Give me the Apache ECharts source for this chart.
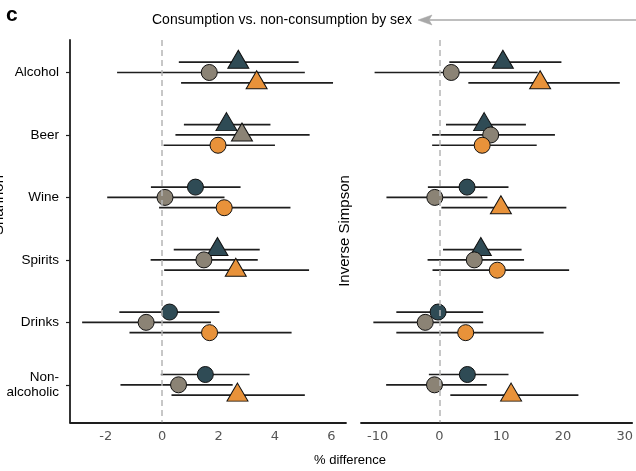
<!DOCTYPE html>
<html><head><meta charset="utf-8">
<script src="https://cdn.jsdelivr.net/npm/echarts@6/dist/echarts.min.js"></script>
<style>html,body{margin:0;padding:0;background:#fff}#c{width:636px;height:471px}</style>
</head><body><div id="c"></div>
<script>
// ---- data ----
const categories = ['Alcohol', 'Beer', 'Wine', 'Spirits', 'Drinks', 'Non-\nalcoholic'];
const groups = ['Teal group', 'Gray group', 'Orange group'];
const xTicksShannon = [-2, 0, 2, 4, 6];
const xTicksSimpson = [-10, 0, 10, 20, 30];

// Shannon panel (% difference)
const shannonTealEst = [2.70, 2.28, 1.18, 1.96, 0.26, 1.53];
const shannonTealLo  = [0.59, 0.77, -0.40, 0.41, -1.52, -0.05];
const shannonTealHi  = [4.84, 3.84, 2.78, 3.46, 2.03, 3.10];
const shannonTealSig = [1, 1, 0, 1, 0, 0];

const shannonGrayEst = [1.67, 2.83, 0.10, 1.48, -0.57, 0.58];
const shannonGrayLo  = [-1.60, 0.47, -1.95, -0.41, -2.84, -1.48];
const shannonGrayHi  = [5.06, 5.23, 2.21, 3.39, 1.73, 2.50];
const shannonGraySig = [0, 1, 0, 0, 0, 0];

const shannonOrangeEst = [3.35, 1.98, 2.20, 2.61, 1.68, 2.67];
const shannonOrangeLo  = [0.67, 0.05, -0.11, 0.07, -1.16, 0.33];
const shannonOrangeHi  = [6.06, 4.00, 4.55, 5.21, 4.59, 5.06];
const shannonOrangeSig = [1, 0, 0, 1, 0, 1];

// Inverse Simpson panel (% difference)
const simpsonTealEst = [10.27, 7.24, 4.47, 6.70, -0.22, 4.52];
const simpsonTealLo  = [1.60, 1.06, -1.87, 0.58, -6.98, -1.71];
const simpsonTealHi  = [19.75, 14.00, 11.18, 13.30, 7.08, 11.18];
const simpsonTealSig = [1, 1, 0, 1, 0, 0];

const simpsonGrayEst = [1.91, 8.30, -0.75, 5.64, -2.30, -0.80];
const simpsonGrayLo  = [-10.50, -1.18, -8.58, -1.92, -10.70, -8.63];
const simpsonGrayHi  = [15.90, 18.70, 7.77, 13.70, 7.08, 7.67];
const simpsonGraySig = [0, 0, 0, 0, 0, 0];

const simpsonOrangeEst = [16.30, 6.92, 9.95, 9.37, 4.25, 11.60];
const simpsonOrangeLo  = [4.68, -1.18, 0.32, -1.12, -6.98, 1.76];
const simpsonOrangeHi  = [29.20, 15.75, 20.55, 21.00, 16.87, 22.50];
const simpsonOrangeSig = [1, 0, 1, 0, 0, 1];

// ---- styling ----
const colors = ['#2f4b55', '#8b8375', '#e8923a'];
const dodge = [-0.165, 0, 0.165];
const FONT = '"Liberation Sans", Arial, sans-serif';

const panels = [
  { est: [shannonTealEst, shannonGrayEst, shannonOrangeEst],
    lo: [shannonTealLo, shannonGrayLo, shannonOrangeLo],
    hi: [shannonTealHi, shannonGrayHi, shannonOrangeHi],
    sig: [shannonTealSig, shannonGraySig, shannonOrangeSig] },
  { est: [simpsonTealEst, simpsonGrayEst, simpsonOrangeEst],
    lo: [simpsonTealLo, simpsonGrayLo, simpsonOrangeLo],
    hi: [simpsonTealHi, simpsonGrayHi, simpsonOrangeHi],
    sig: [simpsonTealSig, simpsonGraySig, simpsonOrangeSig] }
];

const series = [];
panels.forEach((p, pi) => {
  series.push({
    type: 'scatter', xAxisIndex: pi, yAxisIndex: pi, data: [], z: 1, silent: true,
    markLine: { silent: true, symbol: ['none', 'none'], label: { show: false },
      lineStyle: { color: '#b5b5b5', type: [6, 4], width: 1.5 },
      data: [{ xAxis: 0 }] }
  });
  groups.forEach((g, gi) => {
    const bars = categories.map((c, i) => [p.lo[gi][i], p.hi[gi][i], i + 1 + dodge[gi]]);
    series.push({
      type: 'custom', name: g, xAxisIndex: pi, yAxisIndex: pi, z: 2, silent: true,
      data: bars,
      encode: { x: [0, 1], y: 2 },
      renderItem: function (params, api) {
        const a = api.coord([api.value(0), api.value(2)]);
        const b = api.coord([api.value(1), api.value(2)]);
        return { type: 'line', shape: { x1: a[0], y1: a[1], x2: b[0], y2: b[1] },
          style: { stroke: '#1e1e1e', lineWidth: 1.7 } };
      }
    });
  });
  groups.forEach((g, gi) => {
    const pts = categories.map((c, i) => {
      const s = p.sig[gi][i] === 1;
      return { value: [p.est[gi][i], i + 1 + dodge[gi]],
        symbol: s ? 'triangle' : 'circle',
        symbolSize: s ? [21, 18] : 16,
        symbolOffset: s ? [0, -3] : [0, 0] };
    });
    series.push({
      type: 'scatter', name: g, xAxisIndex: pi, yAxisIndex: pi, z: 3, silent: true,
      data: pts,
      itemStyle: { color: colors[gi], borderColor: '#111', borderWidth: 1, opacity: 1 }
    });
  });
});

const yBase = {
  type: 'value', inverse: true, min: 0.48, max: 6.6, splitLine: { show: false }
};

const option = {
  animation: false,
  backgroundColor: '#fff',
  grid: [
    { left: 70, top: 40, width: 276, height: 382.3 },
    { left: 361, top: 40, right: 0, height: 382.3 }
  ],
  xAxis: [
    { type: 'value', gridIndex: 0, min: -3.27, max: 6.52,
      splitLine: { show: false },
      axisLine: { show: true, onZero: false, lineStyle: { color: '#1e1e1e', width: 1.8 } },
      axisTick: { show: false },
      axisLabel: { customValues: xTicksShannon, color: '#555', fontFamily: '"DejaVu Sans", sans-serif', fontSize: 13, margin: 8 } },
    { type: 'value', gridIndex: 1, min: -12.7, max: 31.2,
      splitLine: { show: false },
      axisLine: { show: true, onZero: false, lineStyle: { color: '#1e1e1e', width: 1.8 } },
      axisTick: { show: false },
      axisLabel: { customValues: xTicksSimpson, color: '#555', fontFamily: '"DejaVu Sans", sans-serif', fontSize: 13, margin: 8 } }
  ],
  yAxis: [
    Object.assign({}, yBase, { gridIndex: 0,
      axisLine: { show: true, onZero: false, lineStyle: { color: '#1e1e1e', width: 1.8 } },
      axisTick: { show: true, length: 4, customValues: [1, 2, 3, 4, 5, 6], lineStyle: { color: '#1e1e1e', width: 1.2 } },
      axisLabel: { customValues: [1, 2, 3, 4, 5, 6], margin: 11, color: '#000', fontFamily: FONT, fontSize: 13.5,
        lineHeight: 15, align: 'right',
        formatter: v => categories[Math.round(v) - 1] || '' } }),
    Object.assign({}, yBase, { gridIndex: 1,
      axisLine: { show: false }, axisTick: { show: false }, axisLabel: { show: false } })
  ],
  graphic: [
    { type: 'text', left: 6, top: 5, style: { text: 'c', font: 'bold 21px ' + FONT, fill: '#000' } },
    { type: 'text', x: 152, y: 20, style: { text: 'Consumption vs. non-consumption by sex', font: '14px ' + FONT, fill: '#000', verticalAlign: 'middle', align: 'left' } },
    { type: 'line', shape: { x1: 428, y1: 20, x2: 640, y2: 20 }, style: { stroke: '#a8a8a8', lineWidth: 1.5 } },
    { type: 'polygon', shape: { points: [[418, 20], [432, 15], [429, 20], [432, 25]] }, style: { fill: '#a8a8a8', stroke: '#a8a8a8', lineWidth: 0.5 } },
    { type: 'text', x: 350, y: 460, style: { text: '% difference', font: '13px ' + FONT, fill: '#000', align: 'center', verticalAlign: 'middle' } },
    { type: 'text', x: 345, y: 231, rotation: Math.PI / 2, style: { text: 'Inverse Simpson', font: '15px ' + FONT, fill: '#000', align: 'center', verticalAlign: 'middle' } },
    { type: 'text', x: -1, y: 205, rotation: Math.PI / 2, style: { text: 'Shannon', font: '15px ' + FONT, fill: '#000', align: 'center', verticalAlign: 'middle' } }
  ],
  series: series
};

const chart = echarts.init(document.getElementById('c'), null, { renderer: 'canvas' });
chart.setOption(option);
</script>
</body></html>
